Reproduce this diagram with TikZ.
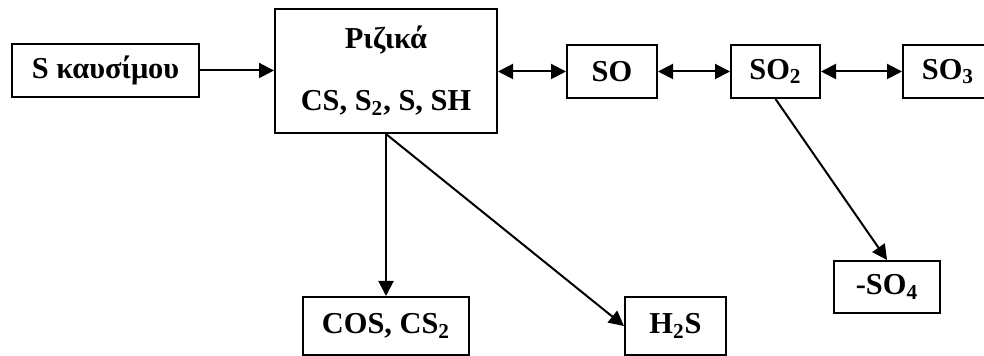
\documentclass[tikz,border=0pt]{standalone}
\usepackage{fontspec}
\setmainfont{Liberation Serif}
\usetikzlibrary{arrows.meta}
\begin{document}
\begin{tikzpicture}[x=0.5pt,y=-0.5pt,
  txt/.style={inner sep=0pt, font=\fontsize{15.2}{18}\selectfont\bfseries},
  box/.style={draw, line width=1pt, rectangle, inner sep=0pt, font=\fontsize{15.2}{18}\selectfont\bfseries},
  arr/.style={line width=1pt, -{Triangle[length=7.5pt,width=7.5pt]}},
  darr/.style={line width=1pt, {Triangle[length=7.5pt,width=7.5pt]}-{Triangle[length=7.5pt,width=7.5pt]}}]
\useasboundingbox (0,0) rectangle (984,356);
\node[box, minimum width=93.5pt, minimum height=26.5pt] (fuel) at (105.5,70.5) {S καυσίμου};
\node[box, minimum width=111pt, minimum height=62pt] (rad) at (386,71) {};
\node[txt] (radA) at (386,40) {Ριζικά};
\node[txt] (radB) at (386,103) {CS, S\textsubscript{2}, S, SH};
\node[box, minimum width=45pt, minimum height=26.5pt] (so) at (612,71.5) {SO};
\node[box, minimum width=44.5pt, minimum height=26.5pt] (so2) at (775.5,71.5) {SO\textsubscript{2}};
\node[box, minimum width=45pt, minimum height=26.5pt] (so3) at (948,71.5) {SO\textsubscript{3}};
\node[box, minimum width=83pt, minimum height=29pt] (cos) at (386,326) {COS, CS\textsubscript{2}};
\node[box, minimum width=50.5pt, minimum height=29pt] (h2s) at (675.5,326) {H\textsubscript{2}S};
\node[box, minimum width=53pt, minimum height=26pt] (so4) at (887,287) {-SO\textsubscript{4}};
\draw[arr] (fuel.east) -- (fuel.east -| rad.west);
\draw[darr] (rad.east |- so.west) -- (so.west);
\draw[darr] (so.east) -- (so2.west);
\draw[darr] (so2.east) -- (so3.west);
\draw[arr] (rad.south) -- (cos.north);
\draw[arr] (rad.south) -- (h2s.west);
\draw[arr] (so2.south) -- (so4.north);
\end{tikzpicture}
\end{document}
